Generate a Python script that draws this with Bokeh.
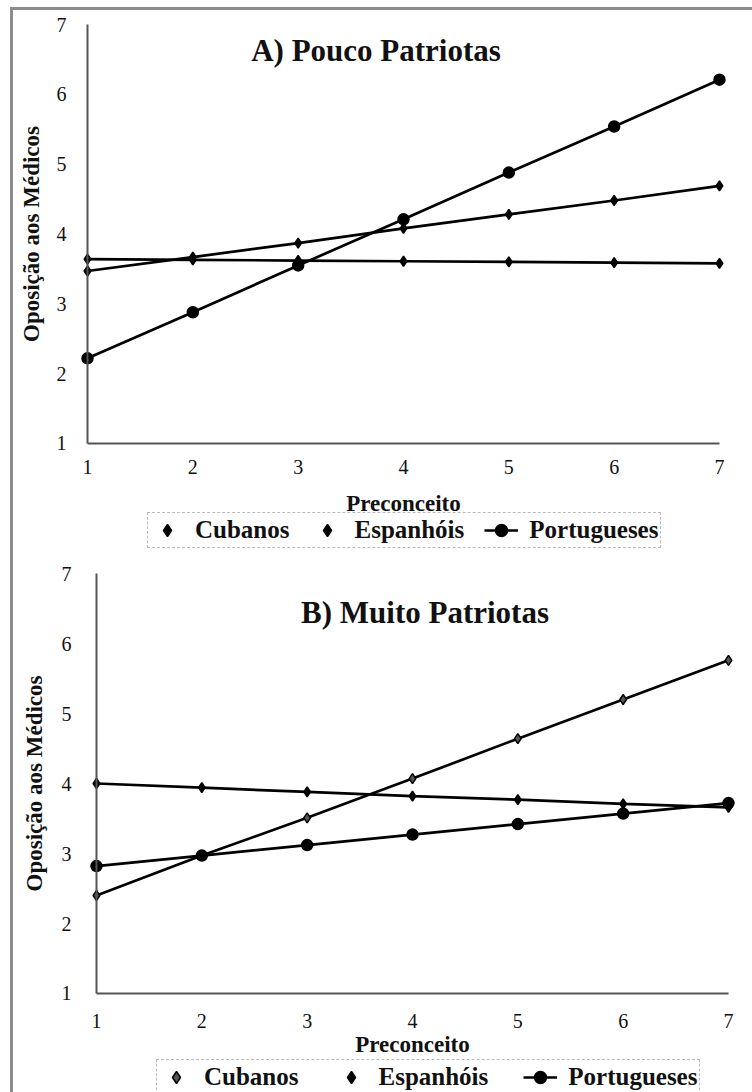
from bokeh.plotting import figure
from bokeh.models import FixedTicker, Label, Legend, LegendItem
from bokeh.layouts import column
from bokeh.embed import file_html
from bokeh.resources import INLINE

# ---------------- data ----------------
preconceito = [1, 2, 3, 4, 5, 6, 7]
tick_values = [1, 2, 3, 4, 5, 6, 7]
series_names = ["Cubanos", "Espanhóis", "Portugueses"]

a_title = "A) Pouco Patriotas"
a_cubanos = [3.47, 3.67, 3.87, 4.08, 4.28, 4.48, 4.69]
a_espanhois = [3.64, 3.63, 3.62, 3.61, 3.60, 3.59, 3.58]
a_portugueses = [2.22, 2.88, 3.55, 4.21, 4.88, 5.54, 6.21]

b_title = "B) Muito Patriotas"
b_cubanos = [2.40, 2.97, 3.51, 4.07, 4.64, 5.20, 5.76]
b_espanhois = [4.00, 3.94, 3.88, 3.82, 3.77, 3.71, 3.66]
b_portugueses = [2.82, 2.97, 3.12, 3.27, 3.42, 3.57, 3.72]

x_label = "Preconceito"
y_label = "Oposição aos Médicos"

FONT = "Liberation Serif"
FIG_W = 739


def make_panel(title, title_xy, cub, esp, por, cub_fill, x_range, y_range, height,
               ystand, ylabstand, xstand, xlabstand, leg_loc, leg_spacing):
    p = figure(width=FIG_W, height=height, x_range=x_range, y_range=y_range,
               output_backend="svg", toolbar_location=None,
               min_border_left=0, min_border_right=0,
               min_border_top=0, min_border_bottom=0)
    p.outline_line_color = None
    p.grid.visible = False
    p.background_fill_color = "white"
    p.border_fill_color = "white"

    for ax in (p.xaxis[0], p.yaxis[0]):
        ax.ticker = FixedTicker(ticks=tick_values)
        ax.bounds = (1, 7)
        ax.fixed_location = 1
        ax.axis_line_color = "#555555"
        ax.axis_line_width = 2
        ax.major_tick_line_color = None
        ax.minor_tick_line_color = None
        ax.major_label_text_font = FONT
        ax.major_label_text_font_size = "20px"
        ax.major_label_text_color = "#111111"
        ax.axis_label_text_font = FONT
        ax.axis_label_text_font_size = "23px"
        ax.axis_label_text_font_style = "bold"
        ax.axis_label_text_color = "#111111"
    p.yaxis.major_label_standoff = ystand
    p.yaxis.axis_label_standoff = ylabstand
    p.xaxis.major_label_standoff = xstand
    p.xaxis.axis_label_standoff = xlabstand
    p.xaxis.axis_label = x_label
    p.yaxis.axis_label = y_label

    renderers = {}
    specs = [
        ("Cubanos", cub, "diamond", 10, cub_fill),
        ("Espanhóis", esp, "diamond", 10, "black"),
        ("Portugueses", por, "circle", 11, "black"),
    ]
    for name, vals, marker, size, fill in specs:
        ln = p.line(preconceito, vals, line_color="black", line_width=2.7)
        sc = p.scatter(preconceito, vals, marker=marker, size=size,
                       fill_color=fill, line_color="black", line_width=1.5)
        renderers[name] = (ln, sc)

    items = [
        LegendItem(label=series_names[0], renderers=[renderers["Cubanos"][1]]),
        LegendItem(label=series_names[1], renderers=[renderers["Espanhóis"][1]]),
        LegendItem(label=series_names[2], renderers=list(renderers["Portugueses"])),
    ]
    legend = Legend(items=items, orientation="horizontal", location=leg_loc,
                    label_text_font=FONT, label_text_font_size="25px",
                    label_text_font_style="bold", label_text_color="#111111",
                    glyph_width=34, glyph_height=30, label_height=22,
                    label_standoff=11, spacing=leg_spacing, padding=2,
                    margin=0, border_line_color="#777777", border_line_dash="dotted",
                    border_line_width=1.5, background_fill_alpha=1.0)
    p.add_layout(legend, "center")

    lab = Label(x=title_xy[0], y=title_xy[1], text=title, text_align="center",
                text_baseline="middle", text_font=FONT, text_font_size="31px",
                text_font_style="bold", text_color="#111111")
    p.add_layout(lab)
    return p


pA = make_panel(a_title, (3.739, 6.63), a_cubanos, a_espanhois, a_portugueses, "black",
                x_range=(0.2974, 7.3134), y_range=(-0.6182, 7.2005), height=546,
                ystand=15, ylabstand=10, xstand=11, xlabstand=13,
                leg_loc=(134, 8), leg_spacing=20)
pB = make_panel(b_title, (4.119, 6.44), b_cubanos, b_espanhois, b_portugueses, "#555555",
                x_range=(0.2120, 7.2280), y_range=(-0.4143, 7.2429), height=536,
                ystand=19, ylabstand=12, xstand=15, xlabstand=0,
                leg_loc=(143, -3), leg_spacing=35)

layout = column(pA, pB, spacing=0,
                styles={"margin-left": "10px", "margin-top": "7px",
                        "border-top": "3px solid #8c8c8c",
                        "border-left": "3px solid #8c8c8c"})

with open("out.html", "w") as f:
    f.write(file_html(layout, INLINE))
